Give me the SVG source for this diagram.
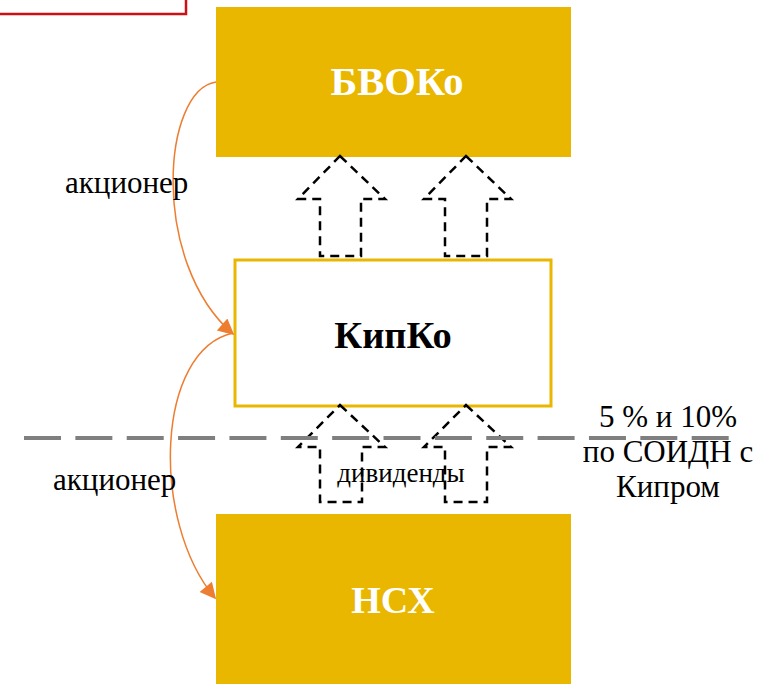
<svg xmlns="http://www.w3.org/2000/svg" width="771" height="684" viewBox="0 0 771 684">
  <defs>
    <style>
      .solid { fill: #E9B700; }
      .label-white { font-family: "Liberation Serif", "Times New Roman", serif; font-weight: bold; font-size: 38px; fill: #FFFFFF; text-anchor: middle; }
      .label-dark { font-family: "Liberation Serif", "Times New Roman", serif; font-weight: bold; font-size: 38.5px; fill: #000000; text-anchor: middle; }
      .txt { font-family: "Liberation Serif", "Times New Roman", serif; font-size: 31px; fill: #000000; }
      .small { font-family: "Liberation Serif", "Times New Roman", serif; font-size: 27px; fill: #000000; text-anchor: middle; }
      .flow { fill: #FFFFFF; fill-opacity: 0; stroke: #000000; stroke-width: 2.5; stroke-dasharray: 9 6; stroke-linejoin: miter; }
      .link { fill: none; stroke: #ED7D31; stroke-width: 1.5; }
    </style>
    <marker id="headL" viewBox="0 0 10 10" refX="9" refY="5" markerWidth="18" markerHeight="16" markerUnits="userSpaceOnUse" orient="auto">
      <path d="M0,0 L10,5 L0,10 z" fill="#ED7D31"/>
    </marker>
  </defs>

  <!-- frame in the upper-left corner -->
  <rect x="-3" y="-3" width="189" height="17" fill="#FFFFFF" stroke="#CC1016" stroke-width="2.5"/>

  <!-- top company -->
  <g id="bvoko">
    <rect class="solid" x="216" y="7" width="355" height="150"/>
    <text class="label-white" x="397" y="95" style="font-size:40.5px">БВОКо</text>
  </g>

  <!-- holding company -->
  <g id="kipko">
    <rect x="235" y="260" width="316" height="146" fill="#FFFFFF" stroke="#E9B700" stroke-width="3"/>
    <text class="label-dark" x="393" y="348">КипКо</text>
  </g>

  <!-- bottom company -->
  <g id="nsh">
    <rect class="solid" x="216" y="514" width="355" height="175"/>
    <text class="label-white" x="393" y="613">НСХ</text>
  </g>

  <g id="connectors">
    <!-- dashed block arrows: dividend flows -->
    <polygon class="flow" points="340,156 385,199 361,199 361,256 320,256 320,199 298,199"/>
    <polygon class="flow" points="466,156 511,199 487,199 487,256 445,256 445,199 424,199"/>
    <polygon class="flow" points="340,405 385,447 362,447 362,502 320,502 320,447 298,447"/>
    <polygon class="flow" points="466,405 511,447 487,447 487,502 445,502 445,447 424,447"/>

    <!-- shareholder links -->
    <path class="link" d="M216,82 C162,90 150,262 233,334" marker-end="url(#headL)"/>
    <path class="link" d="M233,333 C156,350 150,520 215,598" marker-end="url(#headL)"/>
  </g>

  <!-- treaty boundary -->
  <line x1="24" y1="438" x2="729" y2="438" stroke="#7F7F7F" stroke-width="4" stroke-dasharray="37 14.36"/>

  <!-- labels -->
  <text class="txt" x="65" y="193">акционер</text>
  <text class="txt" x="53" y="490">акционер</text>
  <text class="small" x="401" y="482">дивиденды</text>
  <text class="txt" x="668" y="427" text-anchor="middle">5 % и 10%</text>
  <text class="txt" x="668" y="462" text-anchor="middle">по СОИДН с</text>
  <text class="txt" x="668" y="497" text-anchor="middle">Кипром</text>
</svg>
